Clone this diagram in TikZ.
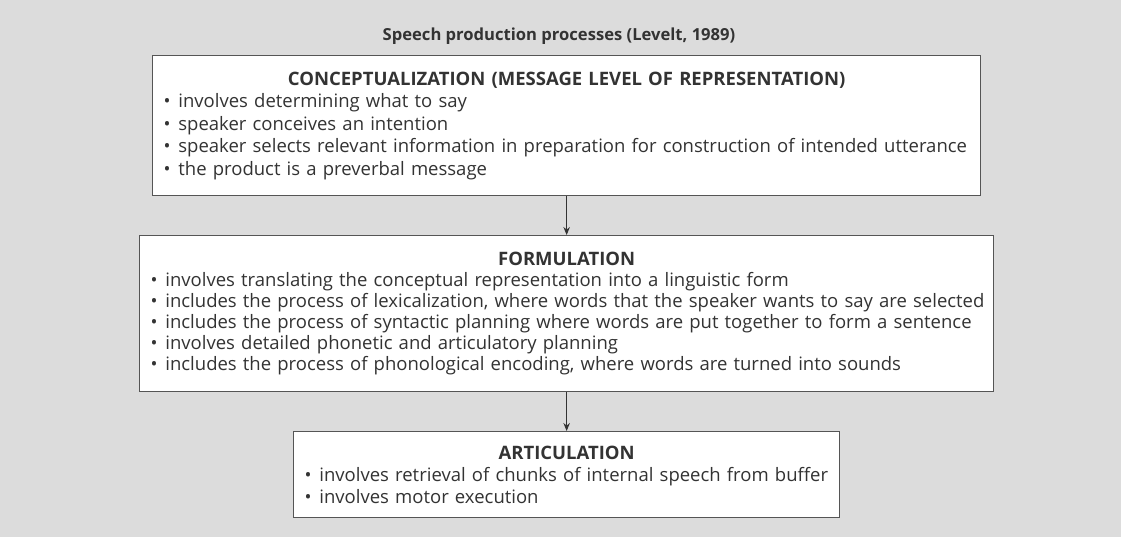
\documentclass[tikz,border=0pt]{standalone}
\usepackage{fontspec}
\setmainfont{Open Sans}
\newfontfamily\titlefont{Open Sans}
\usetikzlibrary{arrows.meta}
\definecolor{bggrey}{HTML}{DCDCDC}
\definecolor{txtgrey}{HTML}{333333}
\definecolor{edgegrey}{HTML}{555555}
\tikzset{
  stagebox/.style={draw=edgegrey, line width=1.3pt, fill=white, anchor=north west,
    inner xsep=0pt, inner ysep=0pt, align=left, text=txtgrey, font=\fontsize{18.5}{22}\selectfont},
  flowarrow/.style={draw=txtgrey, line width=0.9pt, -{Stealth[length=8pt,width=6.5pt]}},
}
\newcommand{\li}[1]{\makebox[\linewidth][l]{\hspace*{1pt}\textbullet\hspace{0.42em}#1}}
\newcommand{\hd}[1]{\makebox[\linewidth][c]{\bfseries #1}}
\begin{document}
\begin{tikzpicture}[x=1pt,y=1pt]
\fill[bggrey] (0,0) rectangle (1121,537);
\useasboundingbox (0,0) rectangle (1121,537);
\node[text=txtgrey, font=\titlefont\bfseries\fontsize{16.6}{18}\selectfont] (title) at (559,501)
  {Speech production processes (Levelt, 1989)};
% box 1
\node[stagebox, minimum width=828pt, minimum height=140pt, text width=808pt] (conc) at (152,482)
 {\parbox{808pt}{\fontsize{18.5}{22.5}\selectfont
  \hd{CONCEPTUALIZATION (MESSAGE LEVEL OF REPRESENTATION)}\\
  \li{involves determining what to say}\\
  \li{speaker conceives an intention}\\
  \li{speaker selects relevant information in preparation for construction of intended utterance}\\
  \li{the product is a preverbal message}}};
% box 2
\node[stagebox, minimum width=854pt, minimum height=156pt, text width=834pt] (form) at (139,302)
 {\parbox{834pt}{\fontsize{18.5}{21}\selectfont
  \hd{FORMULATION}\\
  \li{involves translating the conceptual representation into a linguistic form}\\
  \li{includes the process of lexicalization, where words that the speaker wants to say are selected}\\
  \li{includes the process of syntactic planning where words are put together to form a sentence}\\
  \li{involves detailed phonetic and articulatory planning}\\
  \li{includes the process of phonological encoding, where words are turned into sounds}}};
% box 3
\node[stagebox, minimum width=546pt, minimum height=86pt, text width=526pt] (artic) at (293,106)
 {\parbox{526pt}{\fontsize{18.5}{22}\selectfont
  \hd{ARTICULATION}\\
  \li{involves retrieval of chunks of internal speech from buffer}\\
  \li{involves motor execution}}};
\draw[flowarrow] (conc.south) -- (form.north);
\draw[flowarrow] (form.south) -- (artic.north);
\end{tikzpicture}
\end{document}
